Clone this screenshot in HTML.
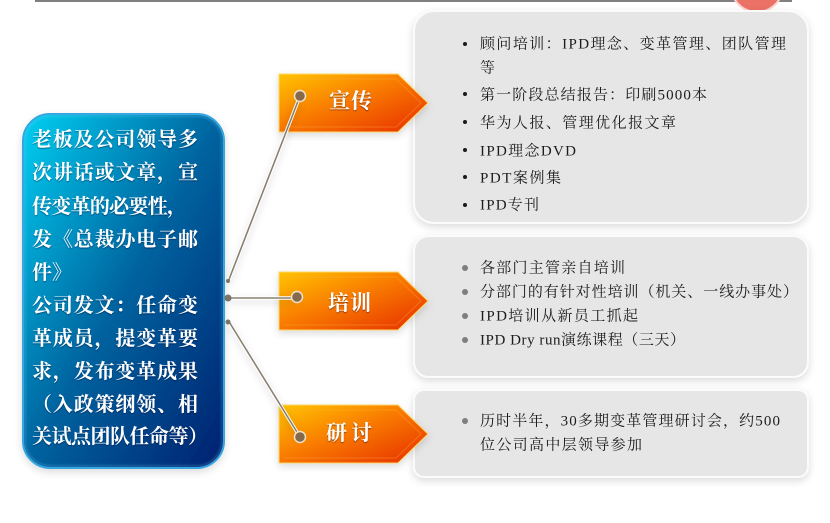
<!DOCTYPE html>
<html><head><meta charset="utf-8"><style>
html,body{margin:0;padding:0;background:#fff}
svg{display:block}
text{font-family:"Liberation Serif","Noto Serif CJK SC",serif}
.p{font-size:15px;fill:#1c1c1c;dominant-baseline:central}
.b{font-size:20px;font-weight:700;fill:#fff;dominant-baseline:central}
.l{font-size:21px;font-weight:700;fill:#fff;dominant-baseline:central}
</style></head><body>
<svg width="830" height="523" viewBox="0 0 830 523" xmlns="http://www.w3.org/2000/svg">
<defs>
<linearGradient id="blue" x1="0" y1="0" x2="1" y2="1"><stop offset="0" stop-color="#06d0f2"/><stop offset=".5" stop-color="#04639f"/><stop offset="1" stop-color="#01206f"/></linearGradient>
<linearGradient id="or" x1="0" y1="0" x2="1" y2="1"><stop offset="0" stop-color="#ffc400"/><stop offset=".45" stop-color="#f97c02"/><stop offset="1" stop-color="#e62c00"/></linearGradient>
<filter id="s" x="-10%" y="-10%" width="120%" height="125%"><feDropShadow dx="0" dy="3" stdDeviation="4" flood-color="#000" flood-opacity=".14"/></filter>
<filter id="ts" x="-5%" y="-20%" width="110%" height="140%"><feDropShadow dx="0" dy="1" stdDeviation=".5" flood-color="#003" flood-opacity=".5"/></filter>
<filter id="bl" x="-20%" y="-20%" width="140%" height="140%"><feGaussianBlur stdDeviation="1"/></filter>
<g id="arrow"><path d="M279 0H398L428 29 398 58H279Z" fill="url(#or)" stroke="#ffd86b" stroke-width="1" filter="url(#s)"/><path d="M284 5H396L421 29 396 53H284" fill="none" stroke="#ffb040" stroke-opacity=".3" stroke-width="1.2"/></g>
</defs>
<rect width="830" height="523" fill="#fff"/>
<rect x="35" y="0" width="757" height="2" fill="#7f7f7f"/>
<circle cx="757" cy="-14" r="26" fill="#ec7167" stroke="#fbd5d0" stroke-width="2"/>

<g fill="#e6e6e6" stroke="#fbfbfb" stroke-width="2" filter="url(#s)">
<rect x="414" y="11" width="394" height="212" rx="20"/>
<rect x="414" y="236" width="394" height="141" rx="15"/>
<rect x="414" y="390" width="394" height="87" rx="10"/>
</g>

<use href="#arrow" y="74"/><use href="#arrow" y="272"/><use href="#arrow" y="405"/>

<rect x="23" y="114" width="201" height="354" rx="27" fill="url(#blue)" stroke="#30a4e0" stroke-width="2" filter="url(#s)"/>
<rect x="25" y="116" width="197" height="350" rx="25" fill="none" stroke="#7ad4f5" stroke-opacity=".35" stroke-width="1.5" filter="url(#bl)"/>

<g fill="none" stroke="#fff" stroke-width="3.4" filter="url(#s)"><path d="M228 282L300 96M228 298H298M228 320L300 437"/></g>
<g fill="none" stroke="#8a8070" stroke-width="1.6"><path d="M228 282L300 96M228 298H298M228 320L300 437"/></g>
<g fill="#86684a" stroke="#eee2cf" stroke-width="1.5"><circle cx="300" cy="96" r="5.5"/><circle cx="297" cy="297" r="5.5"/><circle cx="300" cy="437" r="5.5"/></g>
<g fill="#7d7468"><circle cx="228" cy="281" r="2"/><circle cx="228" cy="298" r="3.5"/><circle cx="228" cy="322" r="2.5"/></g>

<g filter="url(#ts)">
<text class="b" x="32" y="140" textLength="166">老板及公司领导多</text>
<text class="b" x="32" y="173" textLength="166">次讲话或文章，宣</text>
<text class="b" x="32" y="207" textLength="155">传变革的必要性，</text>
<text class="b" x="32" y="240" textLength="166">发《总裁办电子邮</text>
<text class="b" x="32" y="273">件》</text>
<text class="b" x="32" y="306" textLength="166">公司发文：任命变</text>
<text class="b" x="32" y="339" textLength="166">革成员，提变革要</text>
<text class="b" x="32" y="372" textLength="166">求，发布变革成果</text>
<text class="b" x="32" y="405" textLength="166">（入政策纲领、相</text>
<text class="b" x="32" y="437" textLength="176">关试点团队任命等）</text>
<text class="l" x="329" y="101" textLength="43">宣传</text>
<text class="l" x="328" y="303" textLength="43">培训</text>
<text class="l" x="326" y="433" textLength="46">研讨</text>
</g>

<g fill="#1a1a1a"><circle cx="465" cy="44" r="2"/><circle cx="465" cy="94" r="2"/><circle cx="465" cy="122" r="2"/><circle cx="465" cy="150" r="2"/><circle cx="465" cy="177" r="2"/><circle cx="465" cy="205" r="2"/></g>
<g fill="#7f7f7f"><circle cx="465" cy="268" r="3"/><circle cx="465" cy="292" r="3"/><circle cx="465" cy="316" r="3"/><circle cx="465" cy="340" r="3"/><circle cx="465" cy="421" r="3"/></g>

<text class="p" x="480" y="44.500" textLength="306">顾问培训：IPD理念、变革管理、团队管理</text>
<text class="p" x="480" y="68.500" textLength="16">等</text>
<text class="p" x="480" y="95.500" textLength="227">第一阶段总结报告：印刷5000本</text>
<text class="p" x="480" y="123.500" textLength="196">华为人报、管理优化报文章</text>
<text class="p" x="480" y="151.500" textLength="96">IPD理念DVD</text>
<text class="p" x="480" y="178.500" textLength="81">PDT案例集</text>
<text class="p" x="480" y="205.500" textLength="59">IPD专刊</text>
<text class="p" x="480" y="268.500" textLength="145">各部门主管亲自培训</text>
<text class="p" x="480" y="292.500" textLength="318">分部门的有针对性培训（机关、一线办事处）</text>
<text class="p" x="480" y="316.500" textLength="158">IPD培训从新员工抓起</text>
<text class="p" x="480" y="340.500" textLength="205">IPD Dry run演练课程（三天）</text>
<text class="p" x="480" y="421.500" textLength="300">历时半年，30多期变革管理研讨会，约500</text>
<text class="p" x="480" y="445.500" textLength="162">位公司高中层领导参加</text>
</svg>
</body></html>
